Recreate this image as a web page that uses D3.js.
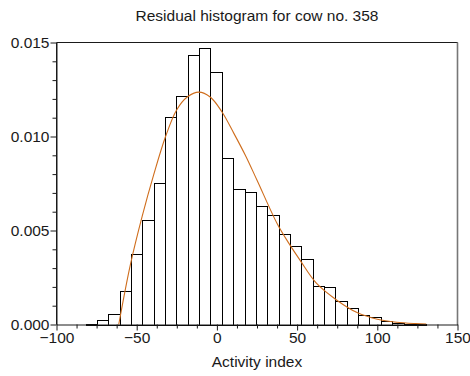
<!DOCTYPE html>
<html>
<head>
<meta charset="utf-8">
<script src="https://cdn.jsdelivr.net/npm/d3@7"></script>
<style>
  html, body { margin: 0; padding: 0; background: #fff; }
  svg { display: block; font-family: "Liberation Sans", Arial, Helvetica, sans-serif; }
</style>
</head>
<body>
<svg id="chart" width="470" height="376"></svg>
<script>
// ---- data ----
const title = "Residual histogram for cow no. 358";
const xLabel = "Activity index";

// histogram bin edges (Activity index)
const binEdges = [-81.9, -74.82, -67.74, -60.66, -53.58, -46.5, -39.42, -32.34, -25.26, -18.18,
  -11.1, -4.02, 3.06, 10.14, 17.22, 24.3, 31.38, 38.46, 45.54, 52.62,
  59.7, 66.78, 73.86, 80.94, 88.02, 95.1, 102.18, 109.26, 116.34, 123.42, 130.5];

// density of each bin
const binDensity = [0.00003, 0.00026, 0.00057, 0.00177, 0.00377, 0.00555, 0.00752, 0.01106, 0.01213, 0.01436,
  0.01473, 0.01344, 0.00888, 0.00722, 0.00706, 0.00631, 0.00582, 0.00484, 0.00418, 0.00346,
  0.00207, 0.00199, 0.00123, 0.00088, 0.00052, 0.00038, 0.00017, 0.0001, 0.00005, 0.00003];

// fitted density curve
const curveX = [-61.2, -53.9, -46.6, -39.3, -32.0, -25.2, -18.5, -11.3, -4.0, 3.3,
  10.5, 17.8, 25.1, 37.6, 45, 52, 62, 75, 87.7, 100, 112, 124, 130.5];
const curveY = [0, 0.0032, 0.00575, 0.0080, 0.0100, 0.0114, 0.0121, 0.01236, 0.01209, 0.01129,
  0.01018, 0.00899, 0.00766, 0.00536, 0.0043, 0.0034, 0.0022, 0.00128, 0.00062, 0.00028, 0.00012, 0.00005, 0.00003];

const xDomain = [-100, 150];
const yDomain = [0, 0.015];
const xMajorTicks = [-100, -50, 0, 50, 100, 150];
const xTickLabels = ["\u2212100", "\u221250", "0", "50", "100", "150"];
const xMinorTicks = [-87.5, -75, -62.5, -37.5, -25, -12.5, 12.5, 25, 37.5, 62.5, 75, 87.5, 112.5, 125, 137.5];
const yMajorTicks = [0, 0.005, 0.010, 0.015];
const yTickLabels = ["0.000", "0.005", "0.010", "0.015"];
const yMinorTicks = [0.001, 0.002, 0.003, 0.004, 0.006, 0.007, 0.008, 0.009, 0.011, 0.012, 0.013, 0.014];

// ---- layout ----
const L = 56.5, R = 457.5, T = 42.5, B = 324.5;
const svg = d3.select("#chart");
const x = d3.scaleLinear().domain(xDomain).range([L, R]);
const y = d3.scaleLinear().domain(yDomain).range([B, T]);
const ink = "#1a1a1a";
const fs = 15.5;

// bars
const bins = binDensity.map((d, i) => ({ x0: binEdges[i], x1: binEdges[i + 1], d }));
svg.append("g").selectAll("rect").data(bins).join("rect")
  .attr("x", b => Math.round(x(b.x0)) + 0.5)
  .attr("y", b => Math.round(y(b.d)) + 0.5)
  .attr("width", b => Math.round(x(b.x1)) - Math.round(x(b.x0)))
  .attr("height", b => Math.max(0, Math.round(y(0)) - Math.round(y(b.d))))
  .attr("fill", "#fff")
  .attr("stroke", "#000")
  .attr("stroke-width", 1);

// curve
const pts = curveX.map((v, i) => [v, curveY[i]]);
svg.append("path")
  .datum(pts)
  .attr("fill", "none")
  .attr("stroke", "#cf6d1c")
  .attr("stroke-width", 1.1)
  .attr("d", d3.line().x(p => x(p[0])).y(p => y(p[1])).curve(d3.curveCatmullRom.alpha(0.5)));

// frame
svg.append("path")
  .attr("d", `M${L},${B}V${T}H${R}V${B}`)
  .attr("fill", "none").attr("stroke", ink).attr("stroke-width", 1);
svg.append("line").attr("x1", R).attr("x2", R).attr("y1", T).attr("y2", B)
  .attr("stroke", "#777").attr("stroke-width", 1.6);

// x axis
const xAxis = d3.axisBottom(x).tickValues(xMajorTicks).tickSize(6).tickSizeOuter(0)
  .tickFormat((d, i) => xTickLabels[i]);
const gx = svg.append("g").attr("transform", `translate(0,${B})`).call(xAxis);
gx.selectAll("line").attr("stroke", ink);
gx.select(".domain").attr("stroke", ink);
gx.selectAll("text").attr("font-size", fs).attr("fill", ink).attr("font-family", null).attr("dy", "0.72em").attr("y", 7);
svg.append("g").attr("transform", `translate(0,${B})`)
  .call(d3.axisBottom(x).tickValues(xMinorTicks).tickSize(4).tickFormat(""))
  .call(g => g.select(".domain").remove())
  .selectAll("line").attr("stroke", ink);

// y axis
const yAxis = d3.axisLeft(y).tickValues(yMajorTicks).tickSize(6).tickSizeOuter(0)
  .tickFormat((d, i) => yTickLabels[i]);
const gy = svg.append("g").attr("transform", `translate(${L},0)`).call(yAxis);
gy.selectAll("line").attr("stroke", ink);
gy.select(".domain").attr("stroke", ink);
gy.selectAll("text").attr("font-size", fs).attr("fill", ink).attr("font-family", null).attr("x", -7);
svg.append("g").attr("transform", `translate(${L},0)`)
  .call(d3.axisLeft(y).tickValues(yMinorTicks).tickSize(4).tickFormat(""))
  .call(g => g.select(".domain").remove())
  .selectAll("line").attr("stroke", ink);

// title & axis label
svg.append("text").attr("x", (L + R) / 2).attr("y", 21).attr("text-anchor", "middle")
  .attr("font-size", fs).attr("fill", ink).text(title);
svg.append("text").attr("x", (L + R) / 2).attr("y", 367).attr("text-anchor", "middle")
  .attr("font-size", fs).attr("fill", ink).text(xLabel);
</script>
</body>
</html>
